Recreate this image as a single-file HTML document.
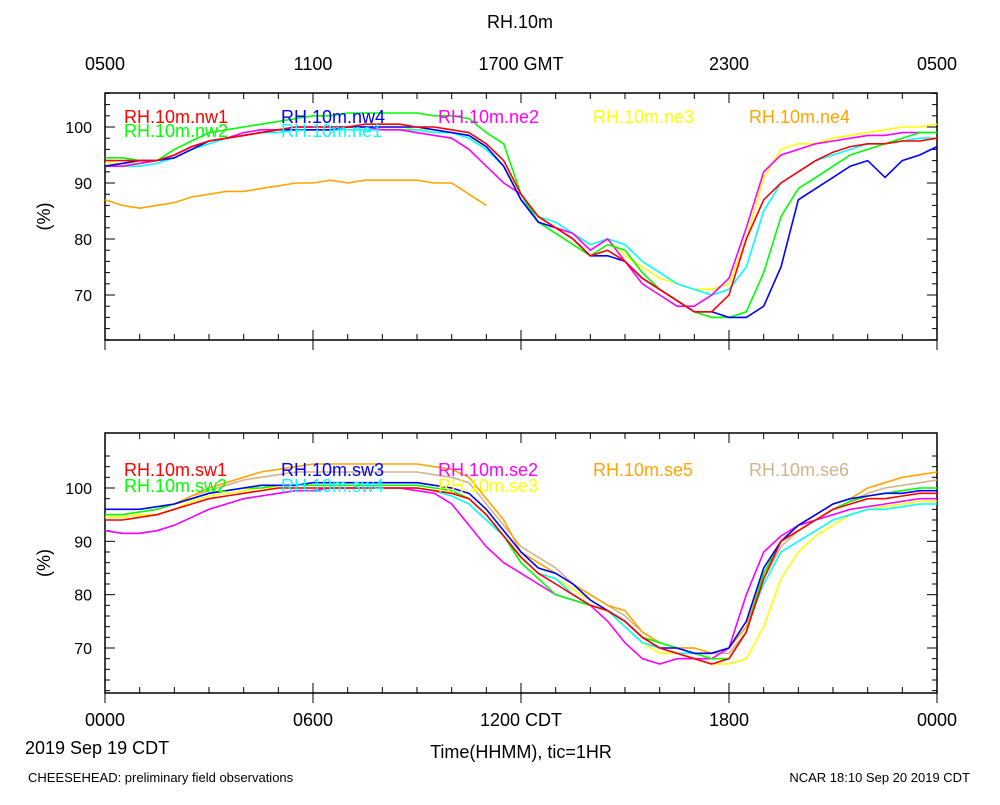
<!DOCTYPE html>
<html><head><meta charset="utf-8"><style>
body{margin:0;background:#fff;width:1000px;height:800px;overflow:hidden}
svg text{font-family:"Liberation Sans",sans-serif}
</style></head><body>
<svg id="chart" width="1000" height="800">
<text x="520" y="28" font-size="18" text-anchor="middle">RH.10m</text>
<text x="28" y="782" font-size="13">CHEESEHEAD: preliminary field observations</text>
<text x="970" y="782" font-size="13" text-anchor="end">NCAR 18:10 Sep 20 2019 CDT</text>
<text x="25" y="754" font-size="18">2019 Sep 19 CDT</text>
<text x="521" y="758" font-size="18" text-anchor="middle">Time(HHMM), tic=1HR</text>
</svg>
<script>
const hours=[];for(let i=0;i<=48;i++)hours.push(i/2);
const topTicks=["0500","1100","1700 GMT","2300","0500"];
const botTicks=["0000","0600","1200 CDT","1800","0000"];
const yTicks=[70,80,90,100];
// top panel series (half-hourly)
const nw1=[94,94,94,94,95,96.5,97.5,98,98.5,99,99.5,100,100,100,100,100.5,100.5,100.5,100,100,99.5,99,97,94,88,84,82,80,77,78,76,73,71,69,67,67,70,80,87,90,92,94,95.5,96.5,97,97,97.5,97.5,98];
const nw4=[93,93.5,94,94,94.5,96,97.5,98,98.5,99,99.5,99.5,99.5,99.5,100,100,100,100,100,99.5,99,98.5,96.5,93,87,83,82,80,77,77,76,73,71,69,67,67,66,66,68,75,87,89,91,93,94,91,94,95,96.5];
const nw2=[94.5,94.5,94,94,96,97.5,99,99.5,100,100.5,101,101.5,102,102,102.5,102.5,102.5,102.5,102.5,102,102,101.5,99,97,88,83,81,79,77,79,78,74,71,69,67,66,66,67,74,84,89,91,93,95,96,97,98,99,99];
const ne2=[93,93,93.5,94,95,96.5,97.5,98,99,99.5,99.5,100,100,100,100,100,99.5,99.5,99,98.5,98,96,93,90,88,83,82,81,78,80,76,72,70,68,68,70,73,82,92,95,96,97,97.5,98,98.5,98.5,99,99,99];
const ne3=[93.5,93.5,93.5,94,95,96.5,97.5,98,98.5,99,99.5,99.5,99.5,99.5,100,100,100,100,99.5,99.5,99,98.5,96,93,88,84,82,81,79,80,77,75,73,72,71,71,72,80,91,96,97,97,98,98.5,99,99.5,100,100,100.5];
const ne1=[93,93,93,93.5,94.5,96,97,98,98.5,99,99,99.5,99.5,99.5,99.5,99.5,99.5,99.5,99.5,99,99,98,96,93,87,84,83,81,79,80,79,76,74,72,71,70,71,75,85,90,92,94,95,96,97,97,97.5,98,98];
const ne4=[87,86,85.5,86,86.5,87.5,88,88.5,88.5,89,89.5,90,90,90.5,90,90.5,90.5,90.5,90.5,90,90,88,86,null,null,null,null,null,null,null,null,null,null,null,null,null,null,null,null,null,null,null,null,null,null,null,null,null,null];
// bottom panel series
const sw1=[94,94,94.5,95,96,97,98,98.5,99,99.5,100,100,100,100,100,100,100,100,100,99.5,99,98,95,91,87,84,82,80,78,77,75,72,70,69,68,67,68,73,83,90,92,94,96,97,98,98,98.5,99,99];
const sw3=[96,96,96,96.5,97,98,99,99.5,100,100.5,100.5,100.5,101,101,101,101,101,101,101,100.5,100,99,96,92,88,85,84,82,79,77,75,72,70,70,69,69,70,75,85,90,93,95,97,98,98.5,99,99,99.5,99.5];
const se2=[92,91.5,91.5,92,93,94.5,96,97,98,98.5,99,99.5,99.5,100,100,100,100,100,99.5,99,97,93,89,86,84,82,80,79,78,75,71,68,67,68,68,68,70,80,88,91,93,94,95,96,96.5,97,97.5,98,98];
const se5=[95,95,95.5,96,97,98.5,100,101,102,103,103.5,104,104.5,104.5,104.5,104.5,104.5,104.5,104.5,104,103.5,102,98,94,88,86,84,82,80,78,77,73,71,70,70,69,70,74,84,90,93,95,97,98,100,101,102,102.5,103];
const se6=[95,95,95.5,96,97,98.5,99.5,100.5,101.5,102,102.5,103,103,103,103,103,103,103,103,102.5,102,101,97,93,89,87,85,82,80,78,76,73,71,70,70,69,69,73,83,89,92,94,96,97.5,99,100,100.5,101,101.5];
const sw2=[95,95,95.5,96,97,98,99,99.5,100,100,100.5,100.5,100.5,100.5,100.5,100.5,100.5,100.5,100.5,100,99.5,98,95,91,86,83,80,79,78,77,75,72,71,70,69,68,68,73,84,90,92,94,96,97.5,98.5,99,99.5,100,100];
const sw4=[92,91.5,91.5,92,93,94.5,96,97,98,98.5,99,99.5,99.5,100,100,100,100,100,100,99.5,98.5,97,94,91,87,84,83,80,78,77,74,71,70,69,69,69,70,74,82,88,90,92,94,95,96,96,96.5,97,97];
const se3=[94.5,94.5,95,95,96,97.5,98.5,99,99.5,100,100,100,100,100,100,100,100,100,100,99.5,99,98,95,91,87,84,83,81,79,77,74,71,69,69,68,67,67,68,74,83,88,91,93,95,96,96.5,97,97.5,97.5];

const svg=document.getElementById('chart');
const NS='http://www.w3.org/2000/svg';
const X0=105,X1=937;
const xs=h=>X0+(X1-X0)*h/24;
function mk(tag,attrs,parent){const e=document.createElementNS(NS,tag);for(const k in attrs)e.setAttribute(k,attrs[k]);(parent||svg).appendChild(e);return e;}
function panel(name,top,bot,y70,y100,tickLabels,tickLabelY,series,legend){
  const ys=v=>y70+(v-70)*(y100-y70)/30;
  const g=mk('g',{});
  
  
  mk('rect',{x:X0,y:top,width:X1-X0,height:bot-top,fill:'none',stroke:'#000','stroke-width':1.5},g);
  for(let h=0;h<=24;h++){const x=xs(h);const L=h%6===0?10:6;
    mk('line',{x1:x,x2:x,y1:top,y2:top+L,stroke:'#000'},g);
    mk('line',{x1:x,x2:x,y1:bot,y2:bot-L,stroke:'#000'},g);
    if(h%6===0)mk('line',{x1:x,x2:x,y1:bot,y2:bot+10,stroke:'#000'},g);}
  tickLabels.forEach((t,i)=>{const e=mk('text',{x:xs(i*6),y:tickLabelY,'font-size':18,'text-anchor':'middle'},g);e.textContent=t;
    
    });
  yTicks.forEach(v=>{const y=ys(v);
    mk('line',{x1:X0,x2:X0+10,y1:y,y2:y,stroke:'#000'},g);mk('line',{x1:X1,x2:X1-10,y1:y,y2:y,stroke:'#000'},g);
    const e=mk('text',{x:92,y:y+6,'font-size':16,'text-anchor':'end'},g);e.textContent=v;
    
    });
  for(let v=62;v<=106;v+=2){if(v%10===0)continue;const y=ys(v);if(y<top||y>bot)continue;
    mk('line',{x1:X0,x2:X0+5,y1:y,y2:y,stroke:'#000'},g);mk('line',{x1:X1,x2:X1-5,y1:y,y2:y,stroke:'#000'},g);}
  const yl=mk('text',{x:50,y:(top+bot)/2,'font-size':18,'text-anchor':'middle',transform:`rotate(-90 50 ${(top+bot)/2})`},g);
  yl.textContent='(%)';
  
  
  series.forEach(s=>{let d='',pen=false;
    s.data.forEach((v,i)=>{if(v==null){pen=false;return;}d+=(pen?'L':'M')+xs(hours[i]).toFixed(1)+' '+ys(v).toFixed(1);pen=true;});
    const p=mk('path',{d:d,fill:'none',stroke:s.color,'stroke-width':1.6},g);
    
    });
  legend.forEach(l=>{const e=mk('text',{x:l.x,y:l.y,'font-size':18,fill:l.color},g);e.textContent=l.label;
    
    });
}
panel('top',93,340,295,127,topTicks,70,[
 {name:'ne4',color:'#ffa500',data:ne4},{name:'ne3',color:'#ffff00',data:ne3},{name:'ne1',color:'#00ffff',data:ne1},
 {name:'ne2',color:'#ff00ff',data:ne2},{name:'nw2',color:'#00ff00',data:nw2},{name:'nw4',color:'#0000ff',data:nw4},{name:'nw1',color:'#ff0000',data:nw1}],
 [{x:124,y:123,label:'RH.10m.nw1',color:'#ff0000'},{x:281,y:123,label:'RH.10m.nw4',color:'#0000ff'},{x:438,y:123,label:'RH.10m.ne2',color:'#ff00ff'},
  {x:593,y:123,label:'RH.10m.ne3',color:'#ffff00'},{x:749,y:123,label:'RH.10m.ne4',color:'#ffa500'},
  {x:124,y:137,label:'RH.10m.nw2',color:'#00ff00'},{x:281,y:137,label:'RH.10m.ne1',color:'#00ffff'}]);
panel('bottom',433,693,648,488,botTicks,726,[
 {name:'se3',color:'#ffff00',data:se3},{name:'sw4',color:'#00ffff',data:sw4},{name:'se6',color:'#d2b48c',data:se6},{name:'se5',color:'#ffa500',data:se5},
 {name:'se2',color:'#ff00ff',data:se2},{name:'sw2',color:'#00ff00',data:sw2},{name:'sw3',color:'#0000ff',data:sw3},{name:'sw1',color:'#ff0000',data:sw1}],
 [{x:124,y:476,label:'RH.10m.sw1',color:'#ff0000'},{x:281,y:476,label:'RH.10m.sw3',color:'#0000ff'},{x:438,y:476,label:'RH.10m.se2',color:'#ff00ff'},
  {x:593,y:476,label:'RH.10m.se5',color:'#ffa500'},{x:749,y:476,label:'RH.10m.se6',color:'#d2b48c'},
  {x:124,y:492,label:'RH.10m.sw2',color:'#00ff00'},{x:281,y:492,label:'RH.10m.sw4',color:'#00ffff'},{x:438,y:492,label:'RH.10m.se3',color:'#ffff00'}]);
</script>
</body></html>
